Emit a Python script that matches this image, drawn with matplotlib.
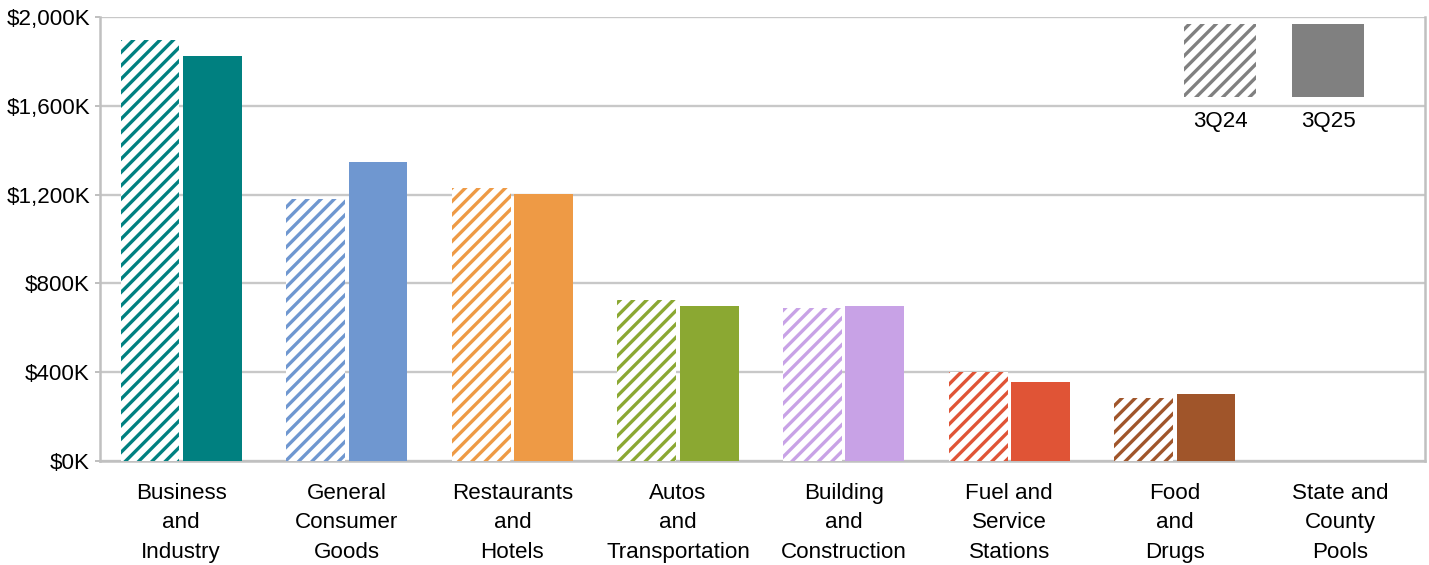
import matplotlib
matplotlib.use("Agg")
import matplotlib.pyplot as plt
from matplotlib.patches import Rectangle
from matplotlib.ticker import FuncFormatter, MultipleLocator
import numpy as np

categories = ["Business\nand\nIndustry", "General\nConsumer\nGoods", "Restaurants\nand\nHotels",
              "Autos\nand\nTransportation", "Building\nand\nConstruction", "Fuel and\nService\nStations",
              "Food\nand\nDrugs", "State and\nCounty\nPools"]
q24 = [1898, 1180, 1230, 725, 690, 401, 284, 0]
q25 = [1825, 1347, 1204, 698, 698, 356, 302, 0]
colors = ["#008080", "#6F97D0", "#EE9A45", "#8BA832", "#C8A2E6", "#E05436", "#A0552A", "#808080"]
series_labels = ["3Q24", "3Q25"]

DPI = 120
FS = 13.4
plt.rcParams['font.family'] = ['Liberation Sans', 'DejaVu Sans']
plt.rcParams['hatch.linewidth'] = 2.0

fig = plt.figure(figsize=(1429 / DPI, 565 / DPI), dpi=DPI)
ax = fig.add_axes([100 / 1429, (565 - 461) / 565, 1325 / 1429, 444 / 565])

x = np.arange(len(categories))
w = 0.355
off = 0.188
for i in range(len(categories)):
    ax.bar(x[i] - off, q24[i], w, facecolor="white", edgecolor=colors[i], linewidth=0,
           hatch="///", zorder=3)
    ax.bar(x[i] + off, q25[i], w, color=colors[i], linewidth=0, zorder=3)

ax.set_xlim(-0.49, len(categories) - 0.49)
ax.set_ylim(0, 2000)
ax.yaxis.set_major_locator(MultipleLocator(400))
ax.yaxis.set_major_formatter(FuncFormatter(lambda v, p: f"${v:,.0f}K"))
ax.set_xticks(x)
ax.set_xticklabels(categories, fontsize=FS, linespacing=1.55)
ax.tick_params(axis='x', length=0, pad=13)
ax.tick_params(axis='y', length=3, color="#c0c0c0", width=1.2, labelsize=FS, pad=3)
ax.grid(axis='y', color="#c8c8c8", linewidth=1.4, zorder=0)
for s in ["left", "bottom", "right"]:
    ax.spines[s].set_color("#c0c0c0")
    ax.spines[s].set_linewidth(1.5)
ax.spines["top"].set_visible(False)

# legend (custom, patches above labels)
fx = lambda px: (px - 100) / 1325
fy = lambda py: (461 - py) / 444
ax.add_patch(Rectangle((fx(1184), fy(97)), 72 / 1325, 73 / 444, transform=ax.transAxes,
                       facecolor="white", edgecolor="#808080", linewidth=0, hatch="///",
                       zorder=5, clip_on=False))
ax.add_patch(Rectangle((fx(1292), fy(97)), 72 / 1325, 73 / 444, transform=ax.transAxes,
                       facecolor="#808080", linewidth=0, zorder=5, clip_on=False))
ax.text(fx(1220), fy(121), series_labels[0], transform=ax.transAxes, ha="center", va="center",
        fontsize=FS, zorder=6)
ax.text(fx(1328), fy(121), series_labels[1], transform=ax.transAxes, ha="center", va="center",
        fontsize=FS, zorder=6)

fig.savefig("out.png", dpi=DPI)
